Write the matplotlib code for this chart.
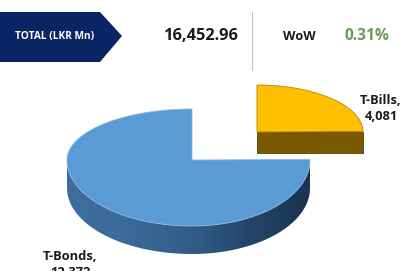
import matplotlib

matplotlib.use("Agg")

import matplotlib.pyplot as plt
import numpy as np
from matplotlib.colors import LinearSegmentedColormap
from matplotlib.patches import Polygon

categories = ["T-Bonds", "T-Bills"]
values = [12372, 4081]
total_value = 16452.96
wow_change = 0.31

BLUE_TOP = "#5B9BD5"
YELLOW_TOP = "#FFC000"
YELLOW_SIDE = "#7A5A00"
NAVY = "#0B2463"
GREEN = "#6A9B52"

plt.rcParams["font.family"] = ["Open Sans", "DejaVu Sans"]

fig = plt.figure(figsize=(4.16, 2.71), dpi=100)
ax = fig.add_axes([0, 0, 1, 1])
ax.set_xlim(0, 416)
ax.set_ylim(271, 0)
ax.axis("off")


def rim(cx, cy, a_left, a_right, b_top, b_bot, theta):
    # piecewise ellipse to fake the perspective of the 3D pie
    c = np.cos(theta)
    s = np.sin(theta)
    x = cx + np.where(c >= 0, a_right, a_left) * c
    y = cy - np.where(s >= 0, b_top, b_bot) * s
    return x, y


angles = np.array(values, dtype=float) / sum(values) * 2 * np.pi
start = np.pi / 2

# T-Bonds: from the top going counter-clockwise
b_cx, b_cy = 192, 160
b_geom = dict(a_left=125, a_right=118, b_top=51, b_bot=66)
b_depth = 28
t0, t1 = start, start + angles[0]
th = np.linspace(t0, t1, 300)
bx, by = rim(b_cx, b_cy, theta=th, **b_geom)

# front side of the blue slice (lower half of the rim)
th_side = np.linspace(np.pi, min(t1, 2 * np.pi), 200)
sx, sy = rim(b_cx, b_cy, theta=th_side, **b_geom)
side_pts = np.column_stack([np.r_[sx, sx[::-1]], np.r_[sy, sy[::-1] + b_depth]])
side = Polygon(side_pts, closed=True, facecolor="none", edgecolor="none")
ax.add_patch(side)
grad = np.linspace(0, 1, 256).reshape(1, -1)
cmap = LinearSegmentedColormap.from_list(
    "side", ["#3E6E9E", "#3B6A98", "#335D88", "#24456A", "#1A3350"]
)
img = ax.imshow(grad, cmap=cmap, aspect="auto",
                extent=(sx.min(), sx.max(), sy.max() + b_depth, sy.min()),
                zorder=1)
img.set_clip_path(side)

top_pts = np.column_stack([np.r_[b_cx, bx], np.r_[b_cy, by]])
ax.add_patch(Polygon(top_pts, closed=True, facecolor=BLUE_TOP,
                     edgecolor="#8FB8E0", linewidth=0.6, zorder=2))

# T-Bills: exploded slice, from 0 to 90 degrees
y_cx, y_cy = 257, 132
y_geom = dict(a_left=106, a_right=106, b_top=47, b_bot=55)
y_depth = 21
th2 = np.linspace(start - angles[1], start, 200)
yx, yy = rim(y_cx, y_cy, theta=th2, **y_geom)
x_end = yx[0]
ax.add_patch(Polygon([(y_cx, y_cy), (x_end, y_cy), (x_end, y_cy + y_depth),
                      (y_cx, y_cy + y_depth)], closed=True,
                     facecolor=YELLOW_SIDE, edgecolor="#5A4200",
                     linewidth=0.6, zorder=3))
ax.add_patch(Polygon(np.column_stack([np.r_[y_cx, yx], np.r_[y_cy, yy]]),
                     closed=True, facecolor=YELLOW_TOP, edgecolor="#B08600",
                     linewidth=0.6, zorder=4))

# data labels
ax.text(381, 108, f"{categories[1]},\n{values[1]:,}", ha="center", va="center",
        fontsize=9.3, fontweight="bold", color="#1a1a1a", linespacing=1.3)
ax.text(70, 265, f"{categories[0]},\n{values[0]:,}", ha="center", va="center",
        fontsize=9.3, fontweight="bold", color="#1a1a1a", linespacing=1.3)

# header banner
ax.add_patch(Polygon([(0, 12), (100, 12), (122, 36), (100, 62), (0, 62)],
                     closed=True, facecolor=NAVY, edgecolor="none"))
ax.text(55, 36, "TOTAL (LKR Mn)", ha="center", va="center", fontsize=7.3,
        fontweight="bold", color="white")
ax.text(201, 36, f"{total_value:,.2f}", ha="center", va="center",
        fontsize=11.8, fontweight="bold", color="#1a1a1a")
ax.plot([252, 252], [12, 70], color="#c0c0c0", linewidth=0.8)
ax.text(299, 36, "WoW", ha="center", va="center", fontsize=9.3,
        fontweight="bold", color="#1a1a1a")
ax.text(367, 36, f"{wow_change:.2f}%", ha="center", va="center",
        fontsize=11.2, fontweight="bold", color=GREEN)

fig.savefig("out.png", dpi=100, facecolor="white")
